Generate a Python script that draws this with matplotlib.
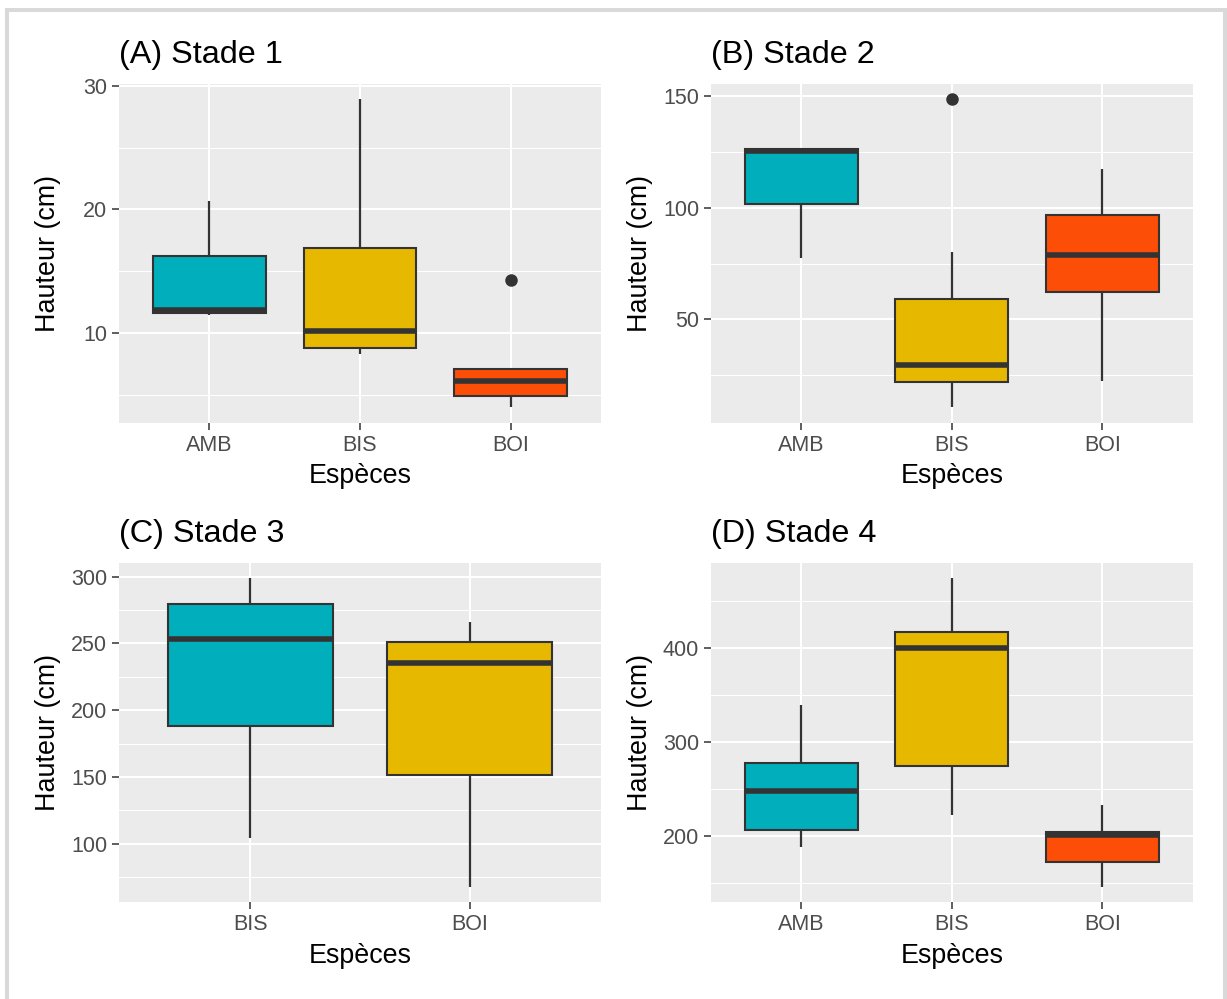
import matplotlib
matplotlib.use('Agg')
import matplotlib.pyplot as plt
from matplotlib.patches import Rectangle
from matplotlib.ticker import MultipleLocator

plt.rcParams['font.family'] = ['Liberation Sans', 'DejaVu Sans']

###########################################################################
# data (cm)

species_3 = ['AMB', 'BIS', 'BOI']
species_2 = ['BIS', 'BOI']

# stade 1
s1_low = [11.5, 8.3, 4.0]
s1_q1 = [11.6, 8.8, 4.9]
s1_med = [11.85, 10.15, 6.1]
s1_q3 = [16.25, 16.9, 7.1]
s1_high = [20.7, 28.9, 7.1]
s1_out = [[], [], [14.3]]

# stade 2
s2_low = [77.3, 10.6, 22.5]
s2_q1 = [101.5, 21.8, 62.2]
s2_med = [125.3, 29.7, 79.0]
s2_q3 = [126.1, 59.0, 96.7]
s2_high = [126.1, 80.0, 117.2]
s2_out = [[], [148.5], []]

# stade 3
s3_low = [104.5, 68.0]
s3_q1 = [188.0, 151.8]
s3_med = [253.3, 235.3]
s3_q3 = [279.3, 250.8]
s3_high = [298.8, 266.3]
s3_out = [[], []]

# stade 4
s4_low = [187.9, 222.4, 145.9]
s4_q1 = [205.7, 274.4, 172.6]
s4_med = [247.7, 400.7, 201.4]
s4_q3 = [277.6, 417.1, 203.6]
s4_high = [339.9, 474.7, 232.4]
s4_out = [[], [], []]

titles = ['(A) Stade 1', '(B) Stade 2', '(C) Stade 3', '(D) Stade 4']
fills = ['#00AFBB', '#E7B800', '#FC4E07']

###########################################################################
# figure

W, H = 1227, 999
fig = plt.figure(figsize=(W / 100, H / 100), dpi=100)
fig.add_artist(Rectangle((7 / W, -0.1), (1225 - 7) / W, 1 - 10 / H + 0.1,
                         transform=fig.transFigure, fill=False,
                         edgecolor='#D9D9D9', lw=2.9))


def add_panel(l, r, t, b):
    return fig.add_axes([l / W, 1 - b / H, (r - l) / W, (b - t) / H])


def draw(ax, title, cats, low, q1, med, q3, high, out, step):
    stats = []
    for i in range(len(cats)):
        stats.append(dict(whislo=low[i], q1=q1[i], med=med[i], q3=q3[i],
                          whishi=high[i], fliers=out[i]))
    pos = list(range(1, len(cats) + 1))
    bp = ax.bxp(stats, positions=pos, widths=0.75, patch_artist=True,
                showcaps=False,
                boxprops=dict(edgecolor='#333333', linewidth=1.5),
                whiskerprops=dict(color='#333333', linewidth=1.6, solid_capstyle='butt'),
                medianprops=dict(color='#333333', linewidth=4, solid_capstyle='butt'),
                flierprops=dict(marker='o', markerfacecolor='#333333',
                                markeredgecolor='#333333', markersize=8))
    for patch, col in zip(bp['boxes'], fills):
        patch.set_facecolor(col)
    vals = list(low) + list(high) + [v for o in out for v in o]
    lo, hi = min(vals), max(vals)
    span = hi - lo
    ax.set_ylim(lo - 0.05 * span, hi + 0.05 * span)
    ax.set_xlim(0.4, len(cats) + 0.6)
    ax.set_xticks(pos)
    ax.set_xticklabels(cats)
    ax.yaxis.set_major_locator(MultipleLocator(step))
    ax.yaxis.set_minor_locator(MultipleLocator(step / 2))
    ax.set_facecolor('#EBEBEB')
    ax.set_axisbelow(True)
    ax.grid(which='major', color='white', linewidth=1.5)
    ax.grid(which='minor', axis='y', color='white', linewidth=0.75)
    for sp in ax.spines.values():
        sp.set_visible(False)
    ax.tick_params(which='major', length=5, width=1.1, color='#333333',
                   labelsize=15.5, labelcolor='#4D4D4D', pad=3.5)
    ax.tick_params(which='minor', length=0)
    ax.set_title(title, loc='left', fontsize=23.3, pad=15)
    ax.set_xlabel('Espèces', fontsize=19.4)
    ax.set_ylabel('Hauteur (cm)', fontsize=19.4)
    ax.xaxis.set_label_coords(0.5, -0.12)
    ax.yaxis.set_label_coords(-0.12, 0.5)


axA = add_panel(119, 601, 84, 422.7)
axB = add_panel(711, 1192.7, 84, 422.7)
axC = add_panel(119, 601, 562.7, 902)
axD = add_panel(711, 1192.7, 562.7, 902)

draw(axA, titles[0], species_3, s1_low, s1_q1, s1_med, s1_q3, s1_high, s1_out, 10)
draw(axB, titles[1], species_3, s2_low, s2_q1, s2_med, s2_q3, s2_high, s2_out, 50)
draw(axC, titles[2], species_2, s3_low, s3_q1, s3_med, s3_q3, s3_high, s3_out, 50)
draw(axD, titles[3], species_3, s4_low, s4_q1, s4_med, s4_q3, s4_high, s4_out, 100)

fig.savefig('out.png', dpi=100)
